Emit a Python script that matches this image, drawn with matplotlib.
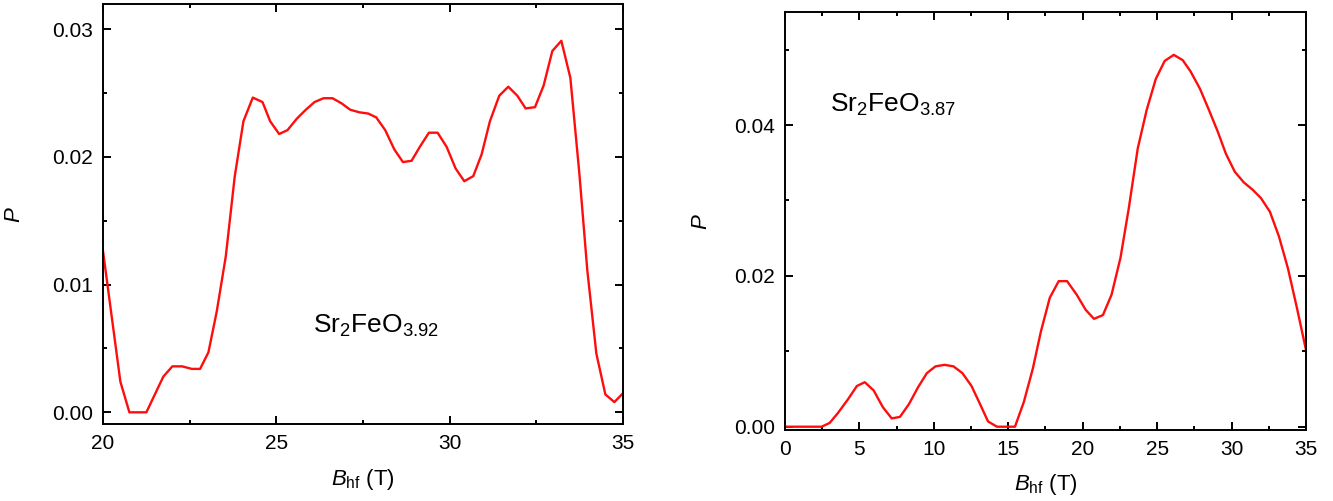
import matplotlib
matplotlib.use("Agg")
import matplotlib.pyplot as plt
from matplotlib.ticker import MultipleLocator, FormatStrFormatter

plt.rcParams["font.family"] = ["Liberation Sans", "DejaVu Sans"]
plt.rcParams["mathtext.fontset"] = "custom"
plt.rcParams["mathtext.rm"] = "Liberation Sans"
plt.rcParams["mathtext.it"] = "Liberation Sans:italic"

# Sr2FeO3.92 hyperfine field distribution
b_left = [20.0, 20.5, 20.76, 21.25, 21.74, 22.0, 22.28, 22.56, 22.8, 23.04, 23.28, 23.54,
          23.8, 24.05, 24.32, 24.6, 24.82, 25.08, 25.32, 25.59, 25.85, 26.1, 26.36, 26.62,
          26.88, 27.13, 27.39, 27.65, 27.88, 28.14, 28.4, 28.65, 28.9, 29.14, 29.4, 29.65,
          29.91, 30.17, 30.42, 30.68, 30.92, 31.16, 31.43, 31.69, 31.95, 32.19, 32.46,
          32.71, 32.96, 33.22, 33.48, 33.74, 33.97, 34.23, 34.49, 34.75, 35.0]
p_left = [0.0126, 0.0024, 0.0, 0.0, 0.0028, 0.0036, 0.0036, 0.0034, 0.0034, 0.0047, 0.0079,
          0.0122, 0.0185, 0.0228, 0.02465, 0.0243, 0.0228, 0.0218, 0.0221, 0.0230, 0.0237,
          0.0243, 0.0246, 0.0246, 0.0242, 0.0237, 0.0235, 0.0234, 0.0231, 0.0221, 0.0206,
          0.0196, 0.0197, 0.0208, 0.0219, 0.0219, 0.0208, 0.0191, 0.0181, 0.0185, 0.0202,
          0.0228, 0.0248, 0.0255, 0.0248, 0.0238, 0.0239, 0.0256, 0.0283, 0.0291, 0.0262,
          0.0187, 0.0111, 0.0046, 0.0014, 0.0008, 0.0015]

# Sr2FeO3.87 hyperfine field distribution
b_right = [0.0, 2.46, 3.0, 3.55, 4.22, 4.83, 5.36, 5.96, 6.57, 7.17, 7.72, 8.33, 8.93, 9.53,
           10.11, 10.72, 11.32, 11.92, 12.53, 13.08, 13.64, 14.24, 14.9, 15.45, 16.05,
           16.65, 17.19, 17.79, 18.39, 18.95, 19.6, 20.2, 20.76, 21.36, 21.94, 22.54, 23.1,
           23.7, 24.3, 24.91, 25.51, 26.12, 26.72, 27.25, 27.88, 28.46, 29.06, 29.62,
           30.22, 30.82, 31.43, 31.98, 32.58, 33.19, 33.79, 34.4, 35.0]
p_right = [0.0, 0.0, 0.0005, 0.0018, 0.0036, 0.0054, 0.0059, 0.0048, 0.0026, 0.0011, 0.0013,
           0.0030, 0.0052, 0.0071, 0.0080, 0.0082, 0.0080, 0.0071, 0.0054, 0.0031, 0.0007,
           0.0, 0.0, 0.0, 0.0033, 0.0077, 0.0126, 0.0171, 0.0193, 0.0193, 0.0175, 0.0155,
           0.0143, 0.0148, 0.0175, 0.0224, 0.0290, 0.0369, 0.0420, 0.0461, 0.0485, 0.0493,
           0.0486, 0.0471, 0.0448, 0.0421, 0.0392, 0.0362, 0.0338, 0.0324, 0.0314, 0.0303,
           0.0285, 0.0252, 0.0210, 0.0157, 0.0102]

fig = plt.figure(figsize=(13.33, 5.01), dpi=100)
ax1 = fig.add_axes([0.0773, 0.1527, 0.3901, 0.8393])
ax2 = fig.add_axes([0.5889, 0.1417, 0.3908, 0.8337])


def style(ax):
    for s in ax.spines.values():
        s.set_linewidth(1.4)
    ax.tick_params(which="both", direction="in", top=True, right=True,
                   width=1.4, labelsize=15, pad=7)
    ax.tick_params(which="major", length=5.8)
    ax.tick_params(which="minor", length=3)
    ax.set_xlabel(r"$\mathit{B}_{\rm hf}$ (T)", fontsize=16)
    ax.set_ylabel(r"$\mathit{P}$", fontsize=16)


ax1.plot(b_left, p_left, color="#ff0d0d", lw=1.7)
ax1.set_xlim(20, 35)
ax1.set_ylim(-0.000955, 0.03198)
ax1.xaxis.set_major_locator(MultipleLocator(5))
ax1.xaxis.set_minor_locator(MultipleLocator(2.5))
ax1.yaxis.set_major_locator(MultipleLocator(0.01))
ax1.yaxis.set_minor_locator(MultipleLocator(0.005))
ax1.yaxis.set_major_formatter(FormatStrFormatter("%.2f"))
style(ax1)
ax1.xaxis.set_label_coords(0.5, -0.1)
ax1.yaxis.set_label_coords(-0.15, 0.5)
ax1.text(0.404, 0.219, r"Sr$_2$FeO$_{3.92}$", transform=ax1.transAxes,
         fontsize=19, ha="left", va="baseline")

ax2.plot(b_right, p_right, color="#ff0d0d", lw=1.7)
ax2.set_xlim(0, 35)
ax2.set_ylim(-0.000438, 0.05494)
ax2.xaxis.set_major_locator(MultipleLocator(5))
ax2.xaxis.set_minor_locator(MultipleLocator(2.5))
ax2.yaxis.set_major_locator(MultipleLocator(0.02))
ax2.yaxis.set_minor_locator(MultipleLocator(0.01))
ax2.yaxis.set_major_formatter(FormatStrFormatter("%.2f"))
style(ax2)
ax2.xaxis.set_label_coords(0.5, -0.1)
ax2.yaxis.set_label_coords(-0.14, 0.5)
ax2.text(0.086, 0.763, r"Sr$_2$FeO$_{3.87}$", transform=ax2.transAxes,
         fontsize=19, ha="left", va="baseline")

fig.savefig("out.png", dpi=100)
